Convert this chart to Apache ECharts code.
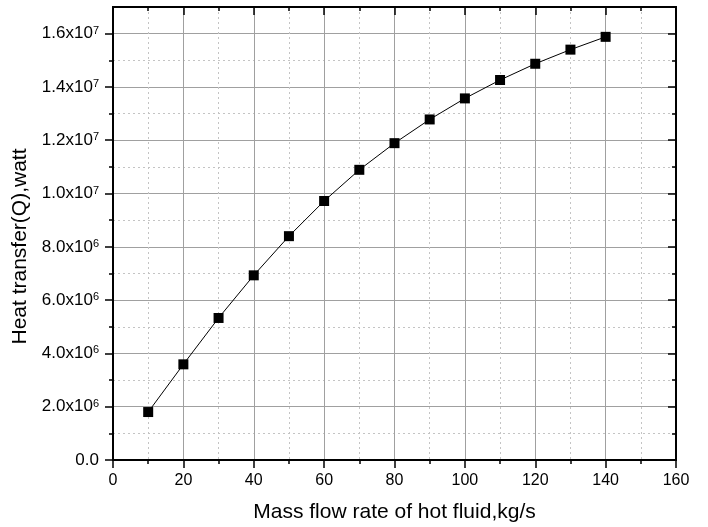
<!DOCTYPE html>
<html>
<head>
<meta charset="utf-8">
<script src="https://cdn.jsdelivr.net/npm/echarts@6/dist/echarts.min.js"></script>
<style>
html,body{margin:0;padding:0;background:#fff;}
#chart{width:708px;height:527px;}
</style>
</head>
<body>
<div id="chart"></div>
<script>
// ---- data ----
const massFlow = [10, 20, 30, 40, 50, 60, 70, 80, 90, 100, 110, 120, 130, 140];
const heatTransfer = [1.80e6, 3.59e6, 5.33e6, 6.93e6, 8.40e6, 9.72e6, 10.89e6, 11.89e6, 12.78e6, 13.57e6, 14.26e6, 14.87e6, 15.40e6, 15.88e6];
const yMajorTicks = [0, 2e6, 4e6, 6e6, 8e6, 10e6, 12e6, 14e6, 16e6];
const yMinorTicks = [1e6, 3e6, 5e6, 7e6, 9e6, 11e6, 13e6, 15e6];
const xTickLabels = ['0', '20', '40', '60', '80', '100', '120', '140', '160'];
const xTitle = 'Mass flow rate of hot fluid,kg/s';
const yTitle = 'Heat transfer(Q),watt';

const FONT = "'Liberation Sans', Arial, sans-serif";
const X_MIN = 0, X_MAX = 160, X_INT = 20;
const Y_MIN = 0, Y_MAX = 1.7e7;

function yLabel(v) {
  if (v === 0) return '{m|0.0}';
  const e = Math.floor(Math.log10(v) + 1e-9);
  const m = (v / Math.pow(10, e)).toFixed(1);
  return '{m|' + m + 'x10}{e|' + e + '}';
}

const axisLineStyle = { color: '#000', width: 2 };
const tickStyle = { color: '#000', width: 1.5 };

const chart = echarts.init(document.getElementById('chart'), null, { renderer: 'canvas' });
chart.setOption({
  animation: false,
  backgroundColor: '#fff',
  grid: { left: 113, right: 32, top: 7, bottom: 67, containLabel: false, outerBoundsMode: 'none' },
  xAxis: [
    {
      type: 'value', position: 'bottom', min: X_MIN, max: X_MAX, interval: X_INT,
      name: xTitle, nameLocation: 'middle', nameGap: 42,
      nameTextStyle: { fontSize: 21, fontFamily: FONT, color: '#000' },
      axisLine: { show: true, onZero: false, lineStyle: axisLineStyle },
      axisTick: { show: true, inside: false, length: 8, lineStyle: tickStyle },
      minorTick: { show: true, splitNumber: 2, length: 4, lineStyle: tickStyle },
      axisLabel: {
        fontSize: 16, fontFamily: FONT, color: '#000', margin: 13,
        formatter: function (v) { return xTickLabels[Math.round((v - X_MIN) / X_INT)] || ''; }
      },
      splitLine: { show: true, lineStyle: { color: '#a0a0a0', width: 1, type: 'solid' } },
      minorSplitLine: { show: true, lineStyle: { color: '#c4c4c4', width: 1, type: [2, 3] } }
    },
    {
      type: 'value', position: 'top', min: X_MIN, max: X_MAX, interval: X_INT,
      axisLine: { show: true, onZero: false, lineStyle: axisLineStyle },
      axisTick: { show: true, inside: true, length: 8, lineStyle: tickStyle },
      minorTick: { show: true, splitNumber: 2, length: 4, lineStyle: tickStyle },
      axisLabel: { show: false },
      splitLine: { show: false }
    }
  ],
  yAxis: [
    {
      type: 'value', position: 'left', min: Y_MIN, max: Y_MAX,
      axisLine: { show: true, onZero: false, lineStyle: axisLineStyle },
      axisTick: { show: true, inside: false, length: 4, lineStyle: tickStyle, customValues: yMinorTicks },
      axisLabel: { show: false, customValues: yMinorTicks },
      splitLine: { show: true, lineStyle: { color: '#c4c4c4', width: 1, type: [2, 3] } }
    },
    {
      type: 'value', position: 'left', min: Y_MIN, max: Y_MAX,
      name: yTitle, nameLocation: 'middle', nameGap: 80,
      nameTextStyle: { fontSize: 21, fontFamily: FONT, color: '#000', padding: [0, 26, 0, 0] },
      axisLine: { show: true, onZero: false, lineStyle: axisLineStyle },
      axisTick: { show: true, inside: false, length: 8, lineStyle: tickStyle, customValues: yMajorTicks },
      axisLabel: {
        customValues: yMajorTicks, margin: 14, color: '#000', fontFamily: FONT,
        formatter: yLabel,
        rich: {
          m: { fontSize: 17, fontFamily: FONT, color: '#000', lineHeight: 19 },
          e: { fontSize: 11, fontFamily: FONT, color: '#000', verticalAlign: 'top', lineHeight: 12, padding: [1, 0, 0, 0] }
        }
      },
      splitLine: { show: true, lineStyle: { color: '#a0a0a0', width: 1, type: 'solid' } }
    },
    {
      type: 'value', position: 'right', min: Y_MIN, max: Y_MAX,
      axisLine: { show: true, onZero: false, lineStyle: axisLineStyle },
      axisTick: { show: true, inside: true, length: 4, lineStyle: tickStyle, customValues: yMinorTicks },
      axisLabel: { show: false, customValues: yMinorTicks },
      splitLine: { show: false }
    },
    {
      type: 'value', position: 'right', min: Y_MIN, max: Y_MAX,
      axisLine: { show: true, onZero: false, lineStyle: axisLineStyle },
      axisTick: { show: true, inside: true, length: 8, lineStyle: tickStyle, customValues: yMajorTicks },
      axisLabel: { show: false, customValues: yMajorTicks },
      splitLine: { show: false }
    }
  ],
  series: [
    {
      type: 'line', xAxisIndex: 0, yAxisIndex: 1,
      data: massFlow.map(function (x, i) { return [x, heatTransfer[i]]; }),
      symbol: 'rect', symbolSize: 10, showSymbol: true,
      itemStyle: { color: '#000' },
      lineStyle: { color: '#000', width: 1 },
      z: 5
    }
  ]
});
</script>
</body>
</html>
